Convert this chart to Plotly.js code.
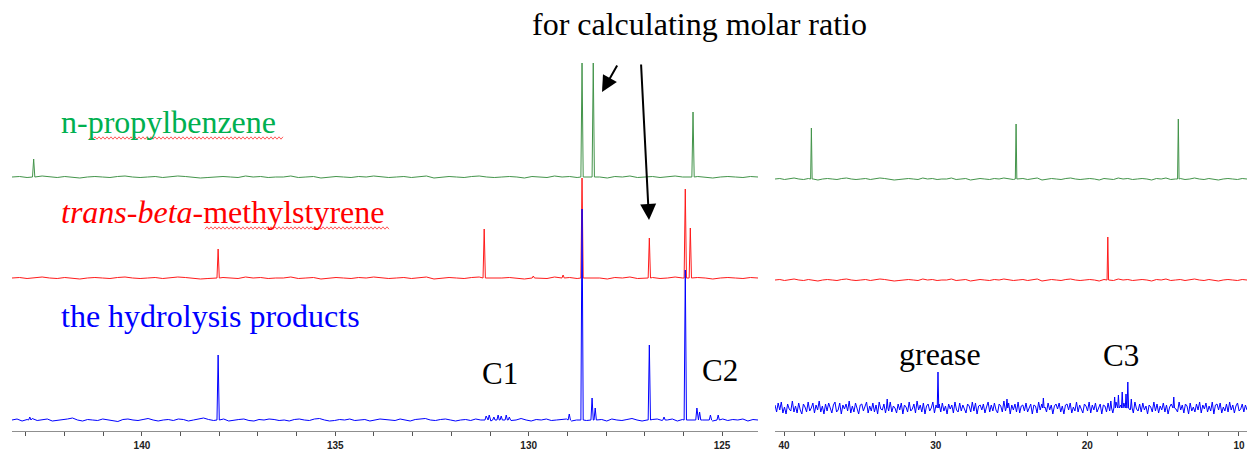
<!DOCTYPE html>
<html><head><meta charset="utf-8">
<script src="https://cdn.plot.ly/plotly-3.0.1.min.js"></script>
<style>html,body{margin:0;padding:0;background:#fff}#chart{width:1248px;height:450px}</style>
</head><body><div id="chart"></div>
<script>
// ---------- data (ppm / relative intensity) ----------
const aromaticRange = [143.36, 124.07];
const aliphaticRange = [40.6, 9.47];
const aromaticTicks = [140, 135, 130, 125];
const aliphaticTicks = [40, 30, 20, 10];

const propylAroPpm = [142.8, 128.62, 128.33, 125.75];
const propylAroInt = [18, 114, 114, 65];
const propylAliPpm = [38.2, 24.7, 14.0];
const propylAliInt = [51, 55, 60];

const styreneAroPpm = [138.03, 131.15, 129.88, 129.11, 128.62, 126.88, 125.95, 125.82];
const styreneAroInt = [29, 49, 2, 3, 100, 40, 89, 50];
const styreneAliPpm = [18.65];
const styreneAliInt = [43];

const productAroPpm = [142.9, 138.03, 131.1, 131.02, 130.9, 130.79, 130.71, 130.58, 130.5, 128.95, 128.62, 128.36, 128.28, 126.88, 126.5, 125.95, 125.65, 125.58, 125.3, 125.1];
const productAroInt = [3, 65, 4, 5, 3, 5, 4, 5, 3, 6, 211, 22, 12, 75, 3, 150, 12, 8, 5, 5];
const productAliPpm = [33.2, 29.85, 25.3, 22.9, 18.45, 18.2, 17.95, 17.7, 17.45, 17.33, 17.1, 14.3];
const productAliInt = [9, 36, 9, 10, 7, 11, 13, 16, 14, 26, 9, 11];

const quietNoise = [0,0.5,-0.5,0,1,0,-0.5,0.5,0,-1,0,0.5,0,-0.5,0.5,1,0,-0.5,0,0.5,-0.5,0,1,0.5,0,-1,-0.5,0,0.5,0,-0.5,1,0,0.5,-0.5,0,0,1,-0.5,0,0.5,-1,0,0.5,0,-0.5,0.5,0,1,0,-0.5,0,0.5,-0.5,0,1,-1,0,0.5,0,-0.5,0.5,1,0,-0.5,0,0.5,0,-1,0.5,0,-0.5,1,0,0.5,-0.5,0,0.5,0,-1,0.5,0,1,-0.5,0,0.5,-0.5,0,1,0,-0.5,0.5,0,-1,0,0.5,0,-0.5,0.5,0];
const productAroNoise = [0,1,-1,0.5,1.5,-0.5,0,1,-1,-0.5,0.5,1,2,0,-1,0.5,0,-0.5,1,0,-1,-1.5,0.5,1,0,-0.5,0.5,1.5,0,-1,0,0.5,-0.5,1,0.5,-1,0,1,2,0.5,-0.5,0,1,-1,0,0.5,1,-0.5,-1,0.5,0,1,0.5,-0.5,0,-1,0.5,1,0,-0.5,1,1.5,0,-1,-0.5,0.5,0,1,-0.5,0,0.5,-1,0,1,0.5,0,-0.5,1,0,-1,0.5,1,1.5,0,-0.5,0.5,1,0,-1,0,0.5,-0.5,1,0,0.5,-1,0,1,0.5,-0.5,0,1.5,0,-1,0.5,0,1,-0.5,0,0.5,1,-1,0,0.5,-0.5,1,0,0.5,-1,1,0,-0.5,0.5,1.5,0,-1,0,0.5,1,-0.5,0,1,-1,0.5,0,-0.5,1,0,0.5,-1,0,1,-0.5,0.5,0,1,-1,0.5,0];
const productAliNoise = [
 3,-4,5,-2,6,-5,1,-6,4,-1,-3,7,-4,2,-5,5,-2,-6,4,1,-4,6,-3,0,5,-5,3,-2,7,-4,2,-6,4,-3,5,-1,-5,3,6,-4,-2,5,-6,3,-1,4,-3,7,-5,2,-4,5,-2,-6,3,4,-3,1,6,-5,
 2,-3,5,-4,3,-6,6,-1,-2,4,-5,3,-3,6,-4,2,0,-5,4,-2,5,-6,3,1,-4,6,-3,-1,4,-5,7,-2,3,-4,5,-6,2,4,-3,0,6,-5,3,-2,4,-4,5,-3,2,-6,4,-1,3,-5,6,-2,-4,5,-3,3,
 -1,-5,4,2,-4,6,-3,5,-6,2,3,-2,4,-5,1,6,-4,3,-3,5,-2,-5,4,2,-4,7,-3,1,5,-6,3,-2,4,-4,6,-5,2,3,-3,5,-4,1,4,-6,3,2,-5,6,-2,4,-3,1,-4,5,-2,3,-6,2,4,-1,
 5,-4,2,-6,3,4,-2,5,-5,1,-3,6,-4,3,-1,-5,4,2,-3,6,-5,3,-2,5,-4,0,4,-6,3,2,-4,5,-3,4,-5,1,6,-2,-4,3,-3,5,-6,2,4,-2,3,-5,6,-1,-3,4,-4,5,-2,2,-6,3,1,-4,
 6,-3,4,-5,2,-2,5,-4,3,-6,1,4,-3,5,-1,-4,6,-2,3,-5,4,2,-6,5,-3,1,-4,4,-2,6,-5,3,-1,5,-4,2,-3,6,-6,3,4,-2,5,-5,1,-3,4,-4,6,-2,3,-5,2,5,-3,-1,4,-4,3,-2];

// ---------- build line traces ----------
function buildSpectrum(range, ppm, inten, noise, base, hw) {
  const hi = Math.max(...range), lo = Math.min(...range);
  const pts = [];
  const n = noise.length;
  for (let i = 0; i < n; i++) {
    const x = hi - (hi - lo) * i / (n - 1);
    if (ppm.some(p => Math.abs(p - x) < hw * 1.3)) continue;
    pts.push([x, base + noise[i]]);
  }
  ppm.forEach((p, i) => {
    pts.push([p + hw, base]);
    pts.push([p, base + inten[i]]);
    pts.push([p - hw, base]);
  });
  pts.sort((a, b) => b[0] - a[0]);
  return { x: pts.map(d => d[0]), y: pts.map(d => d[1]) };
}

const GREEN = '#43944a', RED = '#ff1a1a', BLUE = '#0000ff';
const traces = [];
function addTrace(range, ppm, inten, noise, base, hw, color, xa, ya) {
  const s = buildSpectrum(range, ppm, inten, noise, base, hw);
  traces.push({ type: 'scatter', mode: 'lines', x: s.x, y: s.y, xaxis: xa, yaxis: ya,
    line: { color: color, width: 1 }, hoverinfo: 'skip' });
}
// left (aromatic) panel
addTrace(aromaticRange, propylAroPpm, propylAroInt, quietNoise, 254, 0.03, GREEN, 'x', 'y');
addTrace(aromaticRange, styreneAroPpm, styreneAroInt, quietNoise, 153, 0.03, RED, 'x', 'y');
addTrace(aromaticRange, productAroPpm, productAroInt, productAroNoise, 11, 0.03, BLUE, 'x', 'y');
// right (aliphatic) panel
addTrace(aliphaticRange, propylAliPpm, propylAliInt, quietNoise, 252, 0.05, GREEN, 'x2', 'y2');
addTrace(aliphaticRange, styreneAliPpm, styreneAliInt, quietNoise, 151, 0.05, RED, 'x2', 'y2');
addTrace(aliphaticRange, productAliPpm, productAliInt, productAliNoise, 23, 0.05, BLUE, 'x2', 'y2');

// ---------- layout ----------
const W = 1248, PH = 431;
const P = (x, y) => ({ x: x / W, y: (PH - y) / PH });
const SERIF = 'Liberation Serif, Times New Roman, serif';

function axisCfg(domain, range, ticks, minorStep, yref) {
  return {
    domain: domain, range: range, anchor: yref, showgrid: false, zeroline: false,
    showline: true, linecolor: '#8f8f8f', linewidth: 1,
    ticks: 'outside', ticklen: 4, tickwidth: 1, tickcolor: '#555',
    tickmode: 'array', tickvals: ticks, ticktext: ticks.map(String),
    ticklabelstandoff: 1,
    minor: { dtick: minorStep, ticks: 'outside', ticklen: 4, tickwidth: 1, tickcolor: '#555', showgrid: false },
    tickfont: { family: 'Liberation Sans, Arial, sans-serif', size: 10, color: '#222', weight: 'bold' },
    fixedrange: true
  };
}

function textAnn(str, px, py, color, size, anchor) {
  const p = P(px, py);
  return { text: str, x: p.x, y: p.y, xref: 'paper', yref: 'paper', showarrow: false,
    xanchor: anchor || 'center', yanchor: 'middle',
    font: { family: SERIF, size: size, color: color } };
}
function arrowAnn(tipX, tipY, tailX, tailY) {
  const p = P(tipX, tipY);
  return { text: '', x: p.x, y: p.y, xref: 'paper', yref: 'paper', showarrow: true,
    ax: tailX - tipX, ay: tailY - tipY, arrowhead: 2, arrowsize: 1.6, arrowwidth: 2,
    arrowcolor: '#000', standoff: 0 };
}
// spell-check style wavy underline (decoration under the text labels)
function squiggle(x0, x1, y) {
  let d = '';
  for (let x = x0, k = 0; x <= x1; x += 2, k++) {
    const py = y + (k % 2 ? -1.2 : 1.2);
    const p = P(x, py);
    d += (k === 0 ? 'M' : 'L') + p.x.toFixed(5) + ',' + p.y.toFixed(5);
  }
  return { type: 'path', xref: 'paper', yref: 'paper', path: d,
    line: { color: '#ff5a5a', width: 1 } };
}

const layout = {
  width: 1248, height: 450,
  margin: { l: 0, r: 0, t: 0, b: 19 },
  paper_bgcolor: '#fff', plot_bgcolor: '#fff', showlegend: false,
  xaxis: axisCfg([12 / W, 758 / W], aromaticRange, aromaticTicks, 1, 'y'),
  xaxis2: axisCfg([775 / W, 1247 / W], aliphaticRange, aliphaticTicks, 2, 'y2'),
  yaxis: { domain: [0, 1], range: [0, PH], visible: false, fixedrange: true, anchor: 'x' },
  yaxis2: { domain: [0, 1], range: [0, PH], visible: false, fixedrange: true, anchor: 'x2' },
  shapes: [squiggle(89, 283, 138), squiggle(205, 390, 228)],
  annotations: [
    textAnn('for calculating molar ratio', 699, 24, '#000', 32),
    textAnn('n-propylbenzene', 59, 122, '#00b050', 32, 'left'),
    textAnn('<i>trans</i>-<i>beta</i>-methylstyrene', 59, 212, '#ff0000', 32, 'left'),
    textAnn('the hydrolysis products', 59, 316, '#0000ff', 32, 'left'),
    textAnn('C1', 500, 373, '#000', 31),
    textAnn('C2', 720, 370, '#000', 31),
    textAnn('grease', 940, 354, '#000', 32),
    textAnn('C3', 1121, 355, '#000', 31),
    arrowAnn(602, 92, 618, 64),
    arrowAnn(649, 220, 641, 63)
  ]
};

Plotly.newPlot('chart', traces, layout, { staticPlot: true, displayModeBar: false });
</script>
</body></html>
